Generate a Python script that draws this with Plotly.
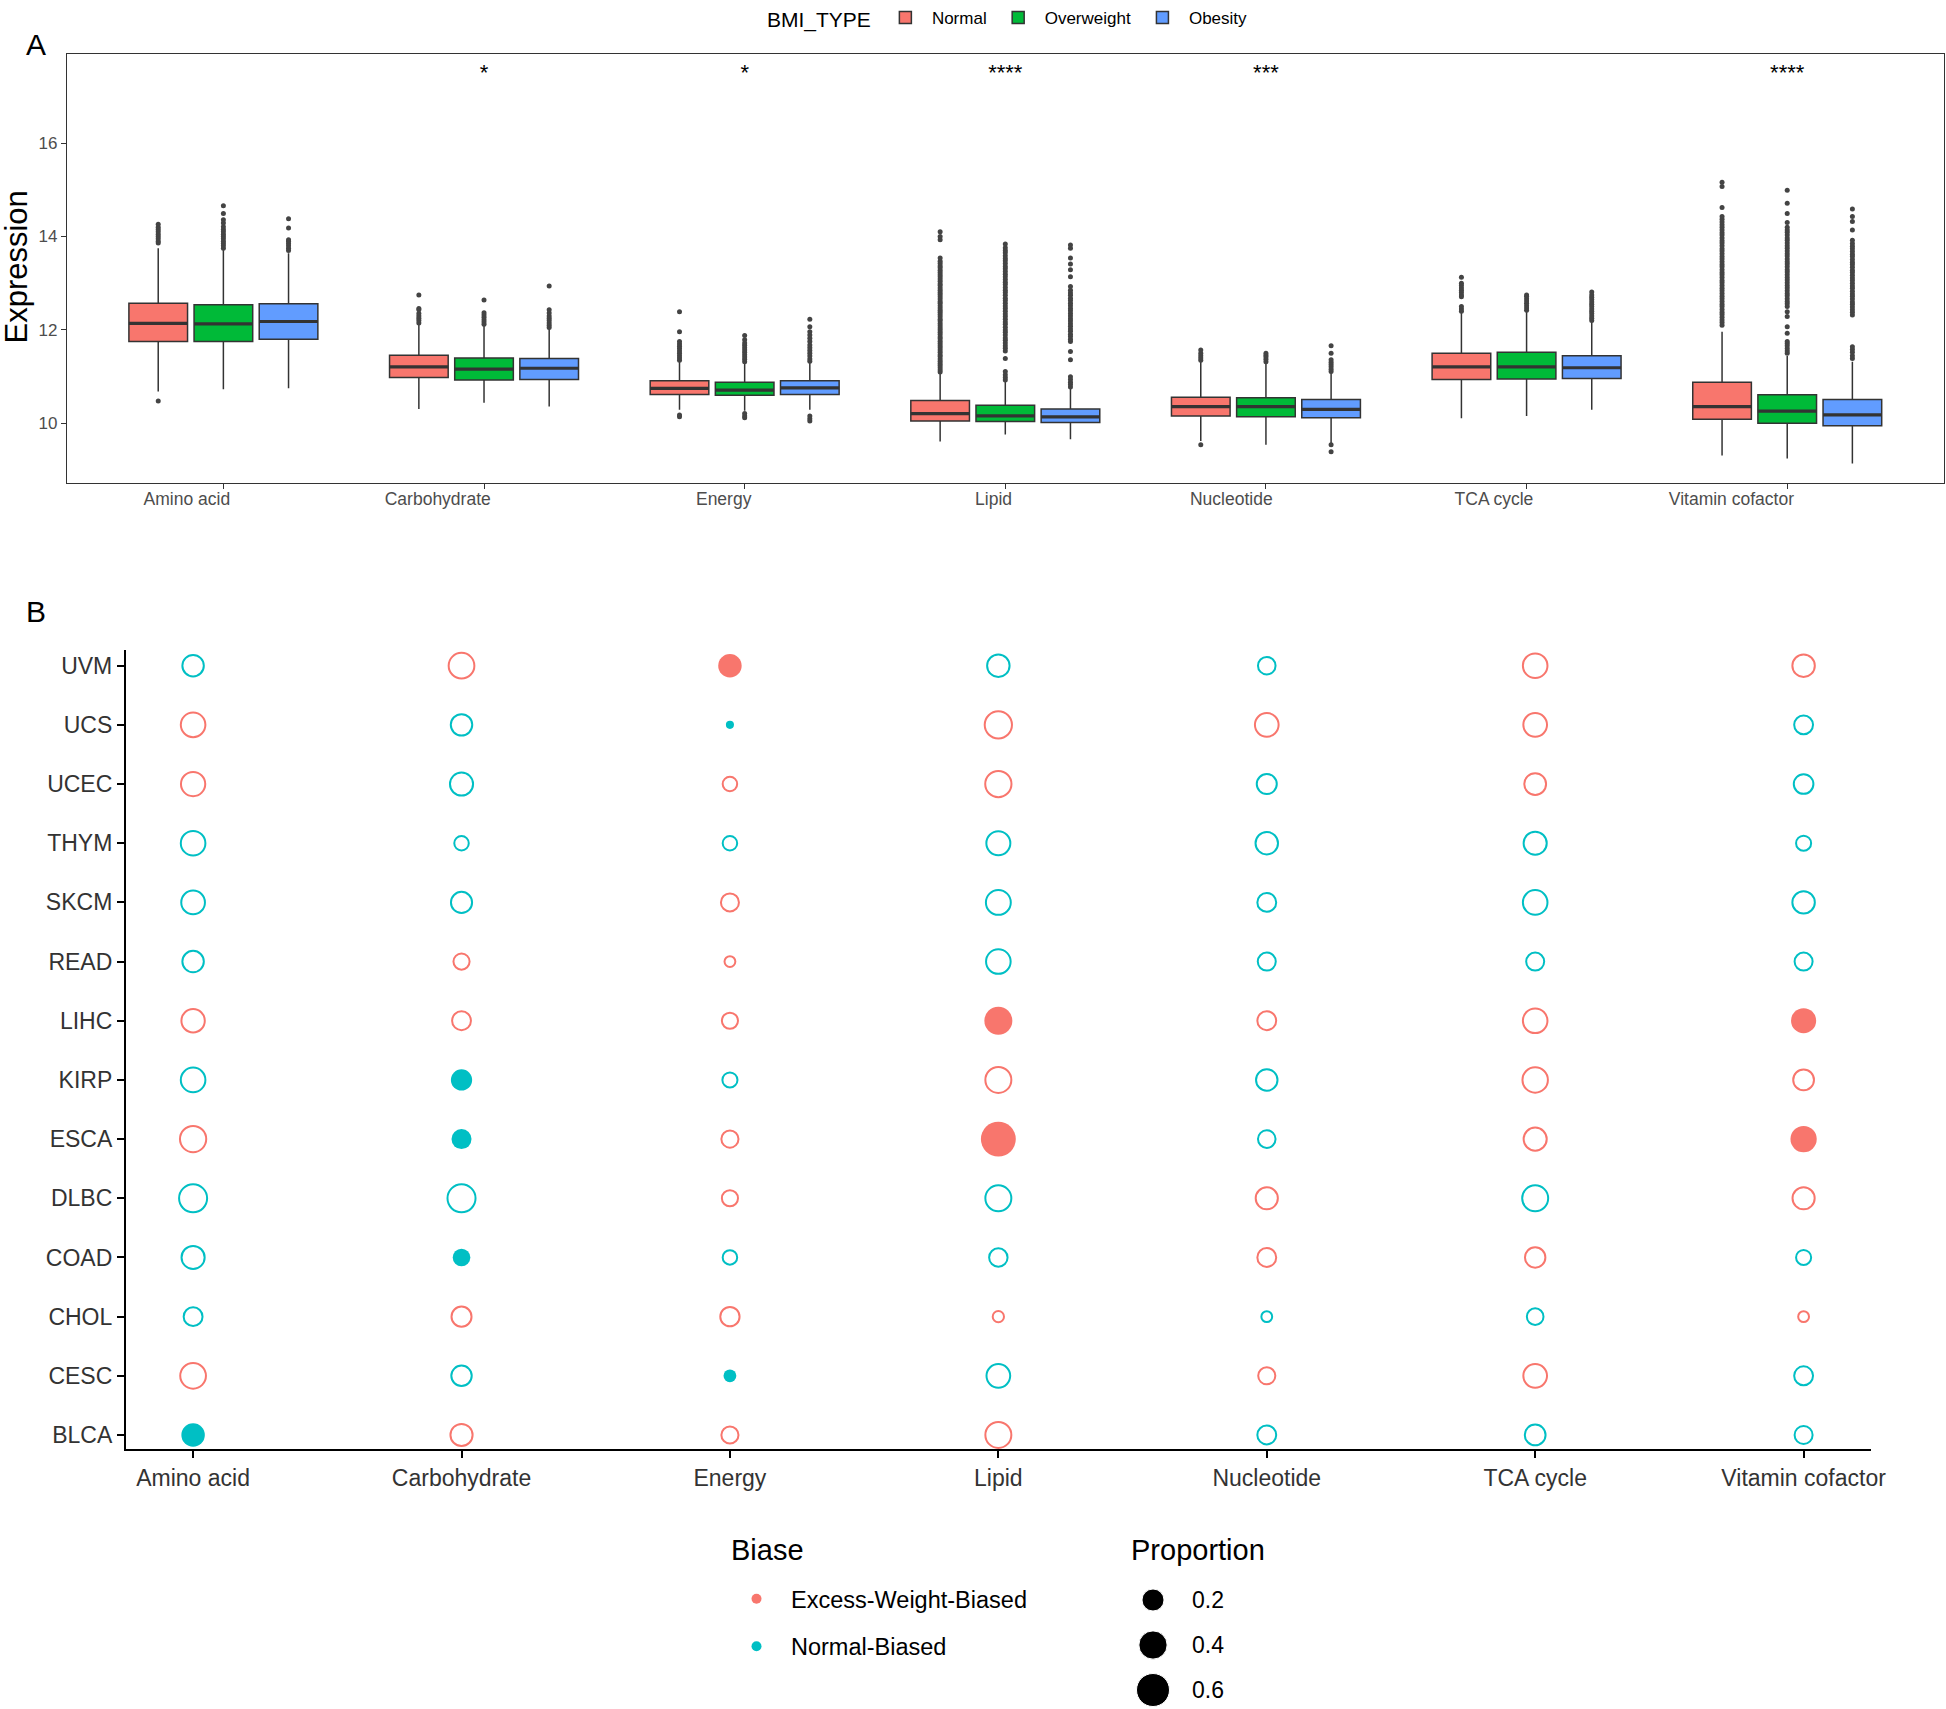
import math
import plotly.graph_objects as go

W, H = 1946, 1709
FONT = "Liberation Sans, Arial, sans-serif"

# ---------------- Panel A data ----------------
categories = ["Amino acid", "Carbohydrate", "Energy", "Lipid", "Nucleotide", "TCA cycle", "Vitamin cofactor"]
bmi_types = ["Normal", "Overweight", "Obesity"]
bmi_colors = ["#F8766D", "#00BA38", "#619CFF"]

normal_q1 = [11.75, 10.98, 10.62, 10.05, 10.16, 10.94, 10.09]
normal_med = [12.14, 11.21, 10.75, 10.21, 10.36, 11.21, 10.36]
normal_q3 = [12.57, 11.46, 10.91, 10.49, 10.56, 11.50, 10.88]
normal_lo = [10.68, 10.31, 10.29, 9.61, 9.62, 10.11, 9.31]
normal_hi = [13.75, 12.30, 11.32, 11.07, 11.32, 12.36, 11.96]

overweight_q1 = [11.75, 10.93, 10.60, 10.04, 10.14, 10.95, 10.00]
overweight_med = [12.13, 11.16, 10.71, 10.16, 10.36, 11.21, 10.26]
overweight_q3 = [12.54, 11.40, 10.88, 10.39, 10.55, 11.52, 10.61]
overweight_lo = [10.73, 10.44, 10.27, 9.76, 9.54, 10.16, 9.25]
overweight_hi = [13.71, 12.11, 11.29, 10.89, 11.32, 12.39, 11.44]

obesity_q1 = [11.80, 10.94, 10.62, 10.02, 10.12, 10.96, 9.95]
obesity_med = [12.18, 11.18, 10.76, 10.14, 10.30, 11.19, 10.18]
obesity_q3 = [12.56, 11.39, 10.91, 10.31, 10.51, 11.45, 10.51]
obesity_lo = [10.75, 10.36, 10.29, 9.66, 9.55, 10.29, 9.14]
obesity_hi = [13.64, 12.04, 11.30, 10.75, 11.11, 12.18, 11.32]

normal_outliers = [
    [10.48, 13.86, 13.90, 13.95, 14.00, 14.05, 14.10, 14.15, 14.20, 14.26],
    [12.15, 12.20, 12.25, 12.30, 12.35, 12.43, 12.46, 12.75],
    [10.14, 10.18, 11.35, 11.40, 11.45, 11.50, 11.55, 11.60, 11.65, 11.70, 11.75, 11.96, 12.39],
    [11.10, 11.14, 11.19, 11.24, 11.28, 11.33, 11.38, 11.43, 11.47, 11.52, 11.57, 11.62, 11.66, 11.71,
     11.76, 11.81, 11.85, 11.90, 11.95, 12.00, 12.04, 12.09, 12.14, 12.19, 12.23, 12.28, 12.33, 12.38,
     12.42, 12.47, 12.52, 12.57, 12.61, 12.66, 12.71, 12.76, 12.80, 12.85, 12.90, 12.95, 12.99, 13.04,
     13.09, 13.14, 13.18, 13.23, 13.28, 13.33, 13.37, 13.42, 13.47, 13.54, 13.93, 14.00, 14.10],
    [9.54, 11.35, 11.40, 11.45, 11.50, 11.57],
    [12.40, 12.45, 12.50, 12.71, 12.75, 12.80, 12.85, 12.90, 12.95, 13.00, 13.13],
    [12.10, 12.16, 12.21, 12.27, 12.33, 12.38, 12.44, 12.50, 12.55, 12.61, 12.67, 12.72, 12.78, 12.84,
     12.89, 12.95, 13.01, 13.06, 13.12, 13.18, 13.23, 13.29, 13.35, 13.40, 13.46, 13.52, 13.57, 13.63,
     13.69, 13.74, 13.80, 13.86, 13.91, 13.97, 14.03, 14.08, 14.14, 14.20, 14.25, 14.31, 14.37, 14.43,
     14.62, 15.07, 15.16],
]
overweight_outliers = [
    [13.75, 13.80, 13.85, 13.90, 13.95, 14.00, 14.05, 14.10, 14.15, 14.21, 14.29, 14.36, 14.49, 14.66],
    [12.12, 12.17, 12.22, 12.27, 12.32, 12.37, 12.64],
    [10.12, 10.16, 10.21, 11.32, 11.37, 11.42, 11.47, 11.52, 11.57, 11.62, 11.67, 11.72, 11.79, 11.88],
    [10.93, 10.98, 11.04, 11.11, 11.39, 11.55, 11.61, 11.66, 11.72, 11.78, 11.83, 11.89, 11.95, 12.00,
     12.06, 12.12, 12.17, 12.23, 12.29, 12.34, 12.40, 12.46, 12.51, 12.57, 12.63, 12.68, 12.74, 12.80,
     12.85, 12.91, 12.97, 13.02, 13.08, 13.14, 13.19, 13.25, 13.31, 13.36, 13.42, 13.48, 13.53, 13.59,
     13.65, 13.70, 13.76, 13.84],
    [11.32, 11.37, 11.42, 11.46, 11.50],
    [12.42, 12.47, 12.52, 12.57, 12.62, 12.67, 12.72, 12.75],
    [11.50, 11.55, 11.60, 11.66, 11.71, 11.75, 11.93, 12.07, 12.29, 12.39, 12.50, 12.56, 12.61, 12.67,
     12.73, 12.78, 12.84, 12.90, 12.95, 13.01, 13.07, 13.12, 13.18, 13.24, 13.29, 13.35, 13.41, 13.46,
     13.52, 13.58, 13.63, 13.69, 13.75, 13.80, 13.86, 13.92, 13.97, 14.03, 14.09, 14.14, 14.20, 14.30,
     14.49, 14.71, 14.99],
]
obesity_outliers = [
    [13.70, 13.75, 13.80, 13.85, 13.90, 13.93, 14.18, 14.38],
    [12.05, 12.10, 12.15, 12.20, 12.25, 12.30, 12.36, 12.43, 12.94],
    [10.05, 10.10, 10.16, 11.33, 11.38, 11.44, 11.50, 11.56, 11.62, 11.68, 11.75, 11.82, 11.89, 11.96,
     12.07, 12.23],
    [10.78, 10.83, 10.88, 10.94, 11.00, 11.36, 11.54, 11.75, 11.80, 11.86, 11.91, 11.97, 12.02, 12.08,
     12.13, 12.19, 12.24, 12.30, 12.35, 12.41, 12.46, 12.52, 12.57, 12.63, 12.68, 12.74, 12.79, 12.85,
     12.93, 13.14, 13.29, 13.41, 13.54, 13.75, 13.82],
    [9.39, 9.54, 11.11, 11.16, 11.21, 11.26, 11.31, 11.36, 11.50, 11.66],
    [12.20, 12.25, 12.30, 12.35, 12.40, 12.45, 12.50, 12.55, 12.60, 12.65, 12.70, 12.75, 12.81],
    [11.39, 11.45, 11.52, 11.58, 11.64, 12.32, 12.38, 12.43, 12.49, 12.55, 12.60, 12.66, 12.72, 12.77,
     12.83, 12.89, 12.94, 13.00, 13.06, 13.11, 13.17, 13.23, 13.28, 13.34, 13.40, 13.45, 13.51, 13.57,
     13.62, 13.68, 13.74, 13.79, 13.85, 13.92, 14.14, 14.32, 14.43, 14.59],
]

sig_labels = ["", "*", "*", "****", "***", "", "****"]
sig_label_y = 17.47

# ---------------- Panel B data ----------------
cancers = ["UVM", "UCS", "UCEC", "THYM", "SKCM", "READ", "LIHC", "KIRP",
           "ESCA", "DLBC", "COAD", "CHOL", "CESC", "BLCA"]          # top -> bottom
bias_levels = ["Excess-Weight-Biased", "Normal-Biased"]
bias_colors = ["#F8766D", "#00BFC4"]

# rows: pathways (same order as categories); columns: cancers (UVM ... BLCA)
bias_codes = [
    "NEENNNENENNNEN",  # Amino acid
    "ENNNNEENNNNENE",  # Carbohydrate
    "ENENEEENEENENE",  # Energy
    "NEENNNEEENNENE",  # Lipid
    "NENNNNENNEENEN",  # Nucleotide
    "EEENNNEEENENEN",  # TCA cycle
    "ENNNNNEEEENENN",  # Vitamin cofactor
]
proportion = [
    [0.24, 0.34, 0.33, 0.34, 0.31, 0.24, 0.30, 0.34, 0.40, 0.47, 0.29, 0.17, 0.38, 0.24],
    [0.38, 0.24, 0.29, 0.08, 0.23, 0.11, 0.17, 0.18, 0.15, 0.47, 0.10, 0.20, 0.21, 0.26],
    [0.24, 0.001, 0.08, 0.08, 0.15, 0.03, 0.11, 0.09, 0.13, 0.11, 0.08, 0.18, 0.03, 0.13],
    [0.27, 0.44, 0.40, 0.32, 0.35, 0.34, 0.39, 0.39, 0.69, 0.39, 0.16, 0.035, 0.31, 0.39],
    [0.14, 0.31, 0.20, 0.27, 0.17, 0.15, 0.17, 0.24, 0.14, 0.26, 0.17, 0.03, 0.13, 0.17],
    [0.34, 0.31, 0.25, 0.29, 0.34, 0.15, 0.34, 0.37, 0.29, 0.39, 0.21, 0.12, 0.31, 0.22],
    [0.27, 0.17, 0.19, 0.09, 0.27, 0.15, 0.29, 0.22, 0.33, 0.26, 0.09, 0.03, 0.17, 0.15],
]
significant = [
    [0, 0, 0, 0, 0, 0, 0, 0, 0, 0, 0, 0, 0, 1],
    [0, 0, 0, 0, 0, 0, 0, 1, 1, 0, 1, 0, 0, 0],
    [1, 1, 0, 0, 0, 0, 0, 0, 0, 0, 0, 0, 1, 0],
    [0, 0, 0, 0, 0, 0, 1, 0, 1, 0, 0, 0, 0, 0],
    [0, 0, 0, 0, 0, 0, 0, 0, 0, 0, 0, 0, 0, 0],
    [0, 0, 0, 0, 0, 0, 0, 0, 0, 0, 0, 0, 0, 0],
    [0, 0, 0, 0, 0, 0, 1, 0, 1, 0, 0, 0, 0, 0],
]
size_legend_values = [0.2, 0.4, 0.6]
size_legend_labels = ["0.2", "0.4", "0.6"]

RING = 2.0


def diam(p):
    # ggplot-like size scale: diameter grows with sqrt(proportion)
    return 7.0 + 33.6 * math.sqrt(p)


fig = go.Figure()

# ---------------- Panel A traces ----------------
offsets = [-0.25, 0.0, 0.25]
xpos = list(range(1, len(categories) + 1))
stats = [
    (normal_q1, normal_med, normal_q3, normal_lo, normal_hi, normal_outliers),
    (overweight_q1, overweight_med, overweight_q3, overweight_lo, overweight_hi, overweight_outliers),
    (obesity_q1, obesity_med, obesity_q3, obesity_lo, obesity_hi, obesity_outliers),
]
for g, name in enumerate(bmi_types):
    q1, med, q3, lo, hi, outs = stats[g]
    xs = [x + offsets[g] for x in xpos]
    ox, oy = [], []
    for i, vals in enumerate(outs):
        ox += [xs[i]] * len(vals)
        oy += vals
    fig.add_trace(go.Scatter(x=ox, y=oy, mode="markers", xaxis="x", yaxis="y",
                             marker=dict(size=5, color="#444444", opacity=1), showlegend=False,
                             hoverinfo="skip"))
    fig.add_trace(go.Box(x=xs, q1=q1, median=med, q3=q3, lowerfence=lo, upperfence=hi,
                         name=name, fillcolor=bmi_colors[g],
                         line=dict(color="#333333", width=1.5), width=0.225,
                         whiskerwidth=0, boxpoints=False, xaxis="x", yaxis="y",
                         legend="legend", legendgroup=name))
    # thicker median line (ggplot fatten)
    fig.add_trace(go.Box(x=xs, q1=med, median=med, q3=med, lowerfence=med, upperfence=med,
                         fillcolor="rgba(0,0,0,0)", line=dict(color="#333333", width=3.2),
                         width=0.225, whiskerwidth=0, boxpoints=False, xaxis="x", yaxis="y",
                         showlegend=False, hoverinfo="skip"))

fig.add_trace(go.Scatter(x=xpos, y=[sig_label_y] * len(xpos), text=sig_labels, mode="text",
                         textfont=dict(size=22, color="#000000", family=FONT),
                         xaxis="x", yaxis="y", showlegend=False, hoverinfo="skip"))

# ---------------- Panel B traces ----------------
for b, level in enumerate(bias_levels):
    code = level[0]
    for filled in (0, 1):
        xs, ys, sz = [], [], []
        for pi, pw in enumerate(categories):
            for ci, cn in enumerate(cancers):
                if bias_codes[pi][ci] == code and significant[pi][ci] == filled:
                    xs.append(pw)
                    ys.append(cn)
                    d = diam(proportion[pi][ci])
                    sz.append(d if filled else d - RING)
        fig.add_trace(go.Scatter(
            x=xs, y=ys, mode="markers", xaxis="x2", yaxis="y2", cliponaxis=False,
            marker=dict(size=sz, color=bias_colors[b], opacity=1,
                        symbol="circle" if filled else "circle-open",
                        line=dict(width=0 if filled else RING, color=bias_colors[b])),
            showlegend=False, hoverinfo="skip"))
    # legend entry for Biase
    fig.add_trace(go.Scatter(x=[None], y=[None], mode="markers", xaxis="x2", yaxis="y2",
                             marker=dict(size=10, color=bias_colors[b], opacity=1), name=level,
                             legend="legend2", legendgroup="lg" + code, showlegend=True))

# Proportion size legend
fig.add_trace(go.Scatter(x=[0] * len(size_legend_values), y=size_legend_values, mode="markers",
                         xaxis="x3", yaxis="y3", cliponaxis=False,
                         marker=dict(size=[diam(v) for v in size_legend_values], color="#000000",
                                     opacity=1),
                         showlegend=False, hoverinfo="skip"))

# ---------------- Layout ----------------
axA_line = dict(showline=True, linecolor="#333333", linewidth=1.3, mirror=True,
                ticks="outside", ticklen=5, tickwidth=1.2, tickcolor="#333333",
                showgrid=False, zeroline=False, automargin=False)
axB_line = dict(showline=True, linecolor="#000000", linewidth=2.2, mirror=False,
                ticks="outside", ticklen=7, tickwidth=2, tickcolor="#000000",
                showgrid=False, zeroline=False, automargin=False)

annotations = [
    dict(text="A", x=36 / W, y=1 - 44 / H, xref="paper", yref="paper", showarrow=False,
         font=dict(size=30, color="#000000"), xanchor="center", yanchor="middle"),
    dict(text="B", x=36 / W, y=1 - 611 / H, xref="paper", yref="paper", showarrow=False,
         font=dict(size=30, color="#000000"), xanchor="center", yanchor="middle"),
    dict(text="Expression", x=16.5 / W, y=1 - 267 / H, xref="paper", yref="paper",
         showarrow=False, textangle=-90, font=dict(size=31, color="#000000"),
         xanchor="center", yanchor="middle"),
    dict(text="Biase", x=729 / W, y=1 - 1550 / H, xref="paper", yref="paper",
         showarrow=False, font=dict(size=29, color="#000000"), xanchor="left", yanchor="middle"),
    dict(text="Proportion", x=1129 / W, y=1 - 1550 / H, xref="paper", yref="paper",
         showarrow=False, font=dict(size=29, color="#000000"), xanchor="left", yanchor="middle"),
]
for v, lab in zip(size_legend_values, size_legend_labels):
    annotations.append(dict(text=lab, x=0.285, y=v, xref="x3", yref="y3", showarrow=False,
                            font=dict(size=23, color="#000000"), xanchor="left",
                            yanchor="middle"))

fig.update_layout(
    width=W, height=H, autosize=False, margin=dict(l=0, r=0, t=0, b=0, autoexpand=False),
    paper_bgcolor="white", plot_bgcolor="white",
    font=dict(family=FONT, color="#000000"),
    boxmode="overlay",
    xaxis=dict(domain=[67 / W, 1943.6 / W], range=[0.4, 7.6], tickvals=xpos, ticktext=categories,
               tickfont=dict(size=17.5, color="#4D4D4D"), ticklabelposition="outside left",
               ticklabelshift=8, anchor="y", **axA_line),
    yaxis=dict(domain=[1 - 482.7 / H, 1 - 54.3 / H], range=[8.73, 17.9],
               tickvals=[10, 12, 14, 16], tickfont=dict(size=17, color="#4D4D4D"),
               anchor="x", **axA_line),
    xaxis2=dict(domain=[126 / W, 1870.7 / W], type="category", categoryorder="array",
                categoryarray=categories, range=[-0.25, 6.25],
                tickfont=dict(size=23, color="#333333"), anchor="y2", **axB_line),
    yaxis2=dict(domain=[1 - 1449.3 / H, 1 - 650 / H], type="category", categoryorder="array",
                categoryarray=cancers, range=[13.242, -0.265],
                tickfont=dict(size=23, color="#333333"), anchor="x2", **axB_line),
    xaxis3=dict(domain=[1130 / W, 1260 / W], range=[-23 / 130, 107 / 130], visible=False,
                anchor="y3", fixedrange=True),
    yaxis3=dict(domain=[0, 129 / H], range=[0.6844, 0.1111], visible=False, anchor="x3",
                fixedrange=True),
    legend=dict(orientation="h", x=765 / W, y=1.0, xanchor="left", yanchor="top",
                title=dict(text="BMI_TYPE", font=dict(size=21, color="#000000")),
                font=dict(size=17, color="#000000"), itemwidth=43, bgcolor="rgba(0,0,0,0)"),
    legend2=dict(orientation="v", x=722 / W, y=1 - 1577 / H, xanchor="left", yanchor="top",
                 font=dict(size=23.5, color="#000000"), itemwidth=59, tracegroupgap=14,
                 bgcolor="rgba(0,0,0,0)"),
    annotations=annotations,
)

fig.write_html("out.html", config={"displayModeBar": False, "responsive": False},
               post_script="document.body.style.margin='0';document.body.style.overflow='hidden';")
